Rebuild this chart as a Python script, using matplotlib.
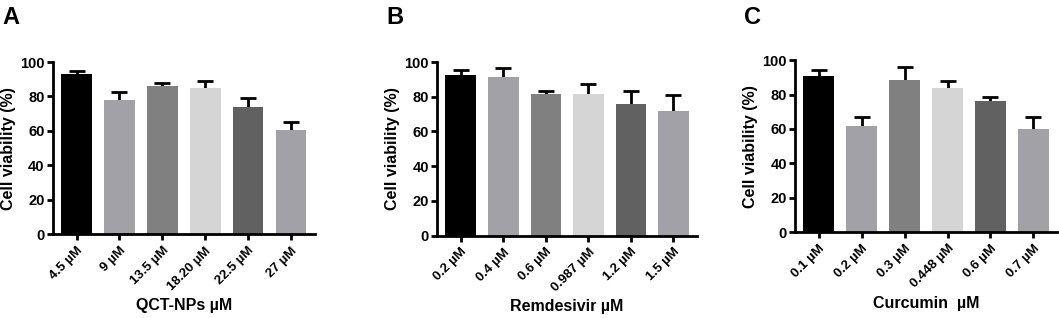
import matplotlib
matplotlib.use("Agg")
import matplotlib.pyplot as plt

# --------- data ---------
qct_labels = ["4.5 µM", "9 µM", "13.5 µM", "18.20 µM", "22.5 µM", "27 µM"]
qct_mean = [93.0, 78.2, 86.0, 85.0, 74.0, 60.7]
qct_err = [2.0, 4.6, 2.0, 4.0, 5.0, 4.3]

rem_labels = ["0.2 µM", "0.4 µM", "0.6 µM", "0.987 µM", "1.2 µM", "1.5 µM"]
rem_mean = [92.7, 91.6, 81.6, 81.6, 75.6, 71.8]
rem_err = [2.5, 5.1, 1.9, 5.7, 7.7, 9.0]

cur_labels = ["0.1 µM", "0.2 µM", "0.3 µM", "0.448 µM", "0.6 µM", "0.7 µM"]
cur_mean = [90.9, 61.7, 88.6, 83.8, 76.4, 60.2]
cur_err = [3.5, 5.0, 7.3, 4.0, 1.9, 6.5]

bar_colors = ["#000000", "#a2a1a7", "#808080", "#d5d5d5", "#616161", "#a2a1a7"]

plt.rcParams.update({
    "font.family": ["Liberation Sans", "DejaVu Sans"],
    "font.weight": "bold",
    "axes.labelweight": "bold",
})

fig = plt.figure(figsize=(10.59, 3.18), dpi=100)

panels = [
    ("A", qct_labels, qct_mean, qct_err, "QCT-NPs µM", [0.050, 0.263, 0.247, 0.542]),
    ("B", rem_labels, rem_mean, rem_err, "Remdesivir µM", [0.413, 0.259, 0.245, 0.546]),
    ("C", cur_labels, cur_mean, cur_err, "Curcumin  µM", [0.751, 0.270, 0.247, 0.541]),
]

for letter, labels, means, errs, xlabel, rect in panels:
    ax = fig.add_axes(rect)
    x = range(len(labels))
    # error bars sit behind the bars so only the upper half shows
    ax.errorbar(x, means, yerr=errs, fmt="none",
                ecolor="black", elinewidth=2, capsize=6, capthick=2, zorder=1)
    ax.bar(x, means, width=0.72, color=bar_colors, zorder=2)
    ax.set_ylim(0, 100)
    ax.set_xlim(-0.55, 5.55)
    ax.set_yticks([0, 20, 40, 60, 80, 100])
    ax.set_xticks(list(x))
    ax.set_xticklabels(labels, rotation=45, ha="right", rotation_mode="anchor",
                       fontsize=9.5, fontweight="bold")
    for t in ax.get_yticklabels():
        t.set_fontweight("bold")
    ax.tick_params(axis="y", labelsize=10.5, width=2, length=4, pad=2)
    ax.tick_params(axis="x", width=2, length=4)
    ax.spines["top"].set_visible(False)
    ax.spines["right"].set_visible(False)
    ax.spines["left"].set_linewidth(2)
    ax.spines["bottom"].set_linewidth(2)
    ax.set_ylabel("Cell viability (%)", fontsize=11.5, labelpad=3)
    ax.set_xlabel(xlabel, fontsize=11.5, labelpad=4)
    fig.text(rect[0] - 0.048, 0.98, letter, fontsize=17, fontweight="bold",
             ha="left", va="top")

plt.savefig("out.png", dpi=100)
